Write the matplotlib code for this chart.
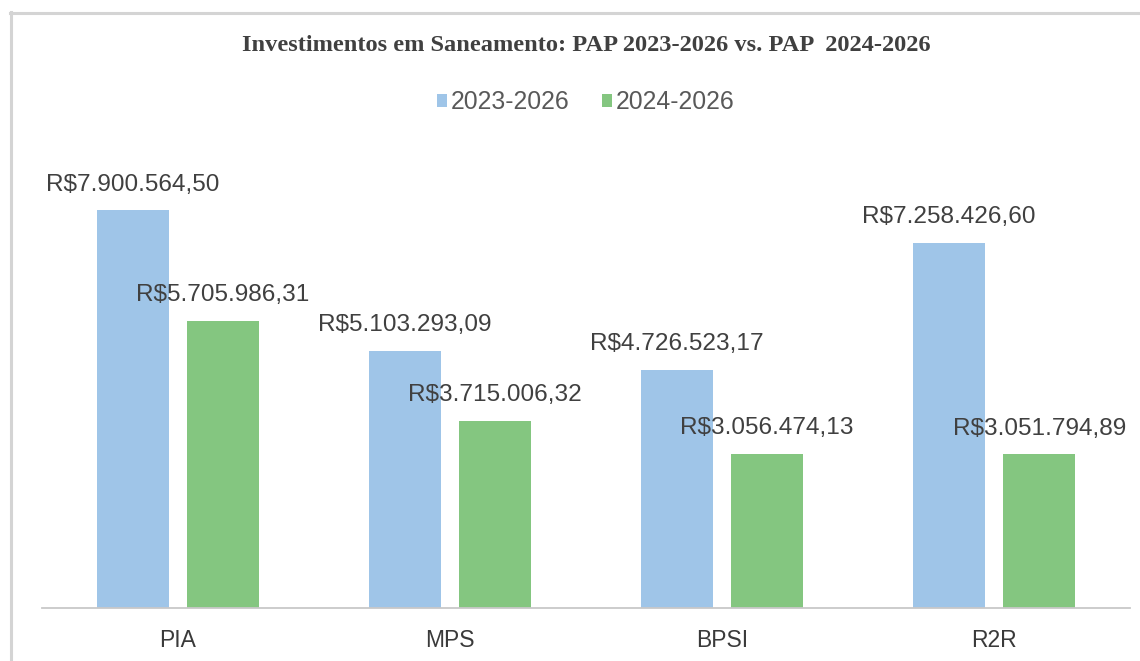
import matplotlib
matplotlib.use("Agg")
import matplotlib.pyplot as plt
from matplotlib.lines import Line2D
from matplotlib.patches import Patch
import numpy as np

categories = ["PIA", "MPS", "BPSI", "R2R"]
series_names = ["2023-2026", "2024-2026"]
values_2023 = [7900564.50, 5103293.09, 4726523.17, 7258426.60]
values_2024 = [5705986.31, 3715006.32, 3056474.13, 3051794.89]
title_text = "Investimentos em Saneamento: PAP 2023-2026 vs. PAP  2024-2026"

BLUE = "#9fc5e8"
GREEN = "#84c680"
TEXT = "#404040"

W, H = 1140, 661
fig = plt.figure(figsize=(W / 100, H / 100), dpi=100)
fig.patch.set_facecolor("white")

# chart area frame (top and left edges)
fig.add_artist(Line2D([10 / W, 1.0], [1 - 12.5 / H] * 2, transform=fig.transFigure,
                      color="#d4d4d4", lw=2.2))
fig.add_artist(Line2D([11 / W] * 2, [0.0, 1 - 12 / H], transform=fig.transFigure,
                      color="#d4d4d4", lw=2.2))

left, right = 42, 1130
top, base = 155, 608
ax = fig.add_axes([left / W, 1 - base / H, (right - left) / W, (base - top) / H])

x = np.arange(len(categories))
bw = 0.265
off = 0.166
b1 = ax.bar(x - off, values_2023, bw, color=BLUE, label=series_names[0])
b2 = ax.bar(x + off, values_2024, bw, color=GREEN, label=series_names[1])


def brl(v):
    s = f"{v:,.2f}"
    s = s.replace(",", "X").replace(".", ",").replace("X", ".")
    return "R$" + s


for bars, vals in ((b1, values_2023), (b2, values_2024)):
    for rect, v in zip(bars, vals):
        ax.annotate(brl(v), (rect.get_x() + rect.get_width() / 2, v),
                    xytext=(0, 18.5), textcoords="offset points",
                    ha="center", va="center", fontsize=17.6,
                    family="Liberation Sans", color=TEXT)

ax.set_xlim(-0.5, 3.5)
ax.set_ylim(0, 9_000_000)
ax.set_yticks([])
for s in ("top", "right", "left"):
    ax.spines[s].set_visible(False)
ax.spines["bottom"].set_color("#c8c8c8")
ax.spines["bottom"].set_linewidth(1.3)
ax.set_xticks(x)
ax.set_xticklabels(categories, fontsize=16.5, family="Liberation Sans",
                   color="#3a3a3a")
ax.tick_params(axis="x", length=0, pad=15)

ax.text(0.5, 1.2417, title_text, transform=ax.transAxes, ha="center",
        va="center", fontsize=17.6, fontweight="bold",
        family="Liberation Serif", color=TEXT)

handles = [Patch(facecolor=BLUE), Patch(facecolor=GREEN)]
leg = ax.legend(handles, series_names, loc="center", bbox_to_anchor=(0.5, 1.117),
                ncol=2, frameon=False, handlelength=0.42, handleheight=0.42,
                handletextpad=0.15, columnspacing=1.3,
                prop={"family": "Liberation Sans", "size": 17.8})
for t in leg.get_texts():
    t.set_color("#595959")

fig.savefig("out.png", dpi=100, facecolor="white")
